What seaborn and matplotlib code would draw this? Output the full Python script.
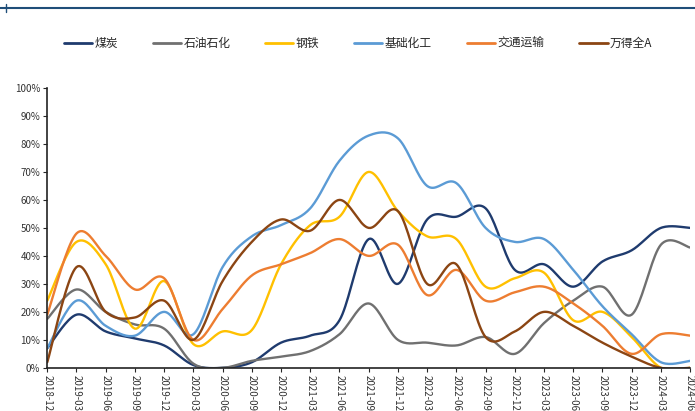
import numpy as np
import pandas as pd
import matplotlib
matplotlib.use('Agg')
import matplotlib.pyplot as plt
import seaborn as sns
from matplotlib.lines import Line2D

# quarter labels on x axis
quarters = ['2018-12', '2019-03', '2019-06', '2019-09', '2019-12', '2020-03', '2020-06',
            '2020-09', '2020-12', '2021-03', '2021-06', '2021-09', '2021-12', '2022-03',
            '2022-06', '2022-09', '2022-12', '2023-03', '2023-06', '2023-09', '2023-12',
            '2024-03', '2024-06']

coal = [7, 19, 13, 10.5, 8, 1, 0, 2, 9, 11.5, 17, 46, 30, 53, 54, 57, 35, 37, 29, 38, 42, 50, 50]
petro = [17.5, 28, 20, 15.5, 14, 1.5, 0, 2.5, 4, 6, 12, 23, 10, 9, 8, 11, 5, 16, 24, 29, 19, 44, 43]
steel = [24, 45, 37, 14, 31, 8.5, 13, 13.5, 37, 51, 54, 70, 56, 47, 46, 29, 32, 34, 17, 20, 11, 0, 0]
chem = [7, 24, 15, 11.5, 20, 12, 36, 47, 51, 57, 74, 83, 82, 65, 66, 50, 45, 46, 35, 22, 12, 2, 2.5]
transport = [19, 48, 40, 28, 32, 10, 21, 33, 37, 41, 46, 40, 44, 26, 35, 24, 27, 29, 23, 15, 5, 12, 11.5]
wind_a = [2, 36, 20, 18, 24, 10, 31, 45, 53, 49, 60, 50, 56, 30, 37, 11, 13, 20, 15, 9, 4, 0, 0]

names = ['煤炭', '石油石化', '钢铁', '基础化工', '交通运输', '万得全A']
colors = ['#1F3B6E', '#707070', '#FFC000', '#5B9BD5', '#ED7D31', '#8B4513']
series = [coal, petro, steel, chem, transport, wind_a]


def smooth(y, n=20):
    # Catmull-Rom curve through the points, like Excel's smoothed line
    y = np.asarray(y, dtype=float)
    x = np.arange(len(y), dtype=float)
    px = np.concatenate([[x[0]], x, [x[-1]]])
    py = np.concatenate([[y[0]], y, [y[-1]]])
    xs, ys = [], []
    t = np.linspace(0, 1, n, endpoint=False)
    for i in range(1, len(px) - 2):
        for p, out in ((px, xs), (py, ys)):
            p0, p1, p2, p3 = p[i - 1], p[i], p[i + 1], p[i + 2]
            c1 = p1 + (p2 - p0) / 6
            c2 = p2 - (p3 - p1) / 6
            b = ((1 - t) ** 3 * p1 + 3 * (1 - t) ** 2 * t * c1
                 + 3 * (1 - t) * t ** 2 * c2 + t ** 3 * p2)
            out.extend(b)
    xs.append(x[-1])
    ys.append(y[-1])
    return np.array(xs), np.array(ys)


rows = []
for name, vals in zip(names, series):
    sx, sy = smooth(vals)
    rows.append(pd.DataFrame({'x': sx, 'y': sy, 'series': name}))
df = pd.concat(rows, ignore_index=True)

sns.set_style('ticks')
plt.rcParams['font.family'] = ['Noto Sans CJK SC', 'DejaVu Sans']

fig = plt.figure(figsize=(6.95, 4.11), dpi=100)
ax = fig.add_axes([0.068, 0.105, 0.925, 0.681])

sns.lineplot(data=df, x='x', y='y', hue='series', hue_order=names,
             palette=dict(zip(names, colors)), sort=False, estimator=None,
             linewidth=1.7, legend=False, ax=ax)

ax.set_xlim(0, len(quarters) - 1)
ax.set_ylim(0, 100)
ax.set_xticks(range(len(quarters)))
ax.set_xticklabels(quarters, rotation=-90, fontsize=7, color='#333333')
ax.set_yticks(range(0, 101, 10))
ax.set_yticklabels([f'{v}%' for v in range(0, 101, 10)], fontsize=7, color='#333333')
ax.set_xlabel('')
ax.set_ylabel('')
ax.tick_params(length=3, width=0.8, pad=2)
for s in ['top', 'right']:
    ax.spines[s].set_visible(False)
for s in ['left', 'bottom']:
    ax.spines[s].set_color('#222222')
    ax.spines[s].set_linewidth(1.2)

handles = [Line2D([0], [0], color=c, lw=2) for c in colors]
fig.legend(handles, names, loc='center', bbox_to_anchor=(0.515, 0.895), ncol=6,
           frameon=False, fontsize=8.5, handlelength=2.4, handletextpad=0.2,
           columnspacing=2.95)

# header rule at top
fig.add_artist(Line2D([0, 1], [0.981, 0.981], color='#1F4E79', lw=1.5,
                      transform=fig.transFigure))
fig.add_artist(Line2D([0.008, 0.008], [0.972, 0.99], color='#1F4E79', lw=1,
                      transform=fig.transFigure))

fig.savefig('out.png', dpi=100)
